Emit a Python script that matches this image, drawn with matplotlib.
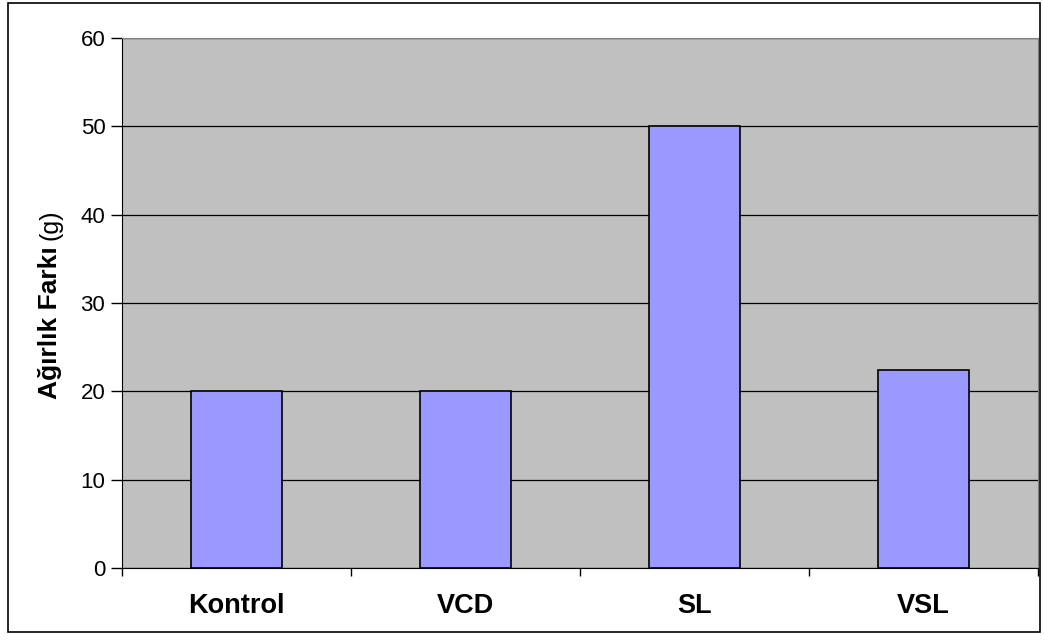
import matplotlib
matplotlib.use("Agg")
import numpy as np
from matplotlib import pyplot as plt
from matplotlib.patches import Rectangle

# Data
categories = ["Kontrol", "VCD", "SL", "VSL"]
values = [20, 20, 50, 22.4]
y_ticks = [0, 10, 20, 30, 40, 50, 60]

plt.rcParams["font.family"] = ["Liberation Sans", "DejaVu Sans"]

W, H = 1044, 640
fig = plt.figure(figsize=(W / 100, H / 100), dpi=100)
ax = fig.add_axes([122 / W, 1 - 568 / H, (1038 - 122) / W, (568 - 38) / H])

# outer border round the whole chart
fig.patches.append(Rectangle((8 / W, 1 - 632 / H), (1040 - 8) / W, (632 - 3) / H,
                             transform=fig.transFigure, fill=False,
                             edgecolor="black", linewidth=1.2))

ax.set_facecolor("#C0C0C0")
x = np.arange(len(categories))
ax.set_ylim(0, 60)
ax.set_xlim(-0.5, len(categories) - 0.5)
ax.set_yticks(y_ticks)
ax.yaxis.grid(True, color="black", linewidth=0.9)
ax.set_axisbelow(True)
ax.bar(x, values, width=0.4, color="#9999FF", edgecolor="black", linewidth=1.2, zorder=3)

# ticks between categories
ax.set_xticks(np.arange(-0.5, len(categories), 1.0))
ax.set_xticklabels([])
ax.tick_params(axis="x", direction="out", length=6, width=1)
ax.tick_params(axis="y", direction="out", length=8, width=1, labelsize=16, pad=4)
label_y = -(606 - 568) / (568 - 38)  # axes fraction below the x axis
for i, c in enumerate(categories):
    ax.text(i, label_y, c, transform=ax.get_xaxis_transform(), ha="center", va="center",
            fontsize=19.5, fontweight="bold")

ax.spines["top"].set_color("#808080")
ax.spines["right"].set_color("#808080")
ax.spines["left"].set_color("black")
ax.spines["bottom"].set_color("black")

# y label: bold part and plain unit
fig.text(50 / W, 1 - 399 / H, "Ağırlık Farkı", rotation=90, ha="center", va="bottom",
         fontsize=19, fontweight="bold")
fig.text(51 / W, 1 - 240 / H, "(g)", rotation=90, ha="center", va="bottom", fontsize=18)

plt.savefig("out.png", dpi=100)
